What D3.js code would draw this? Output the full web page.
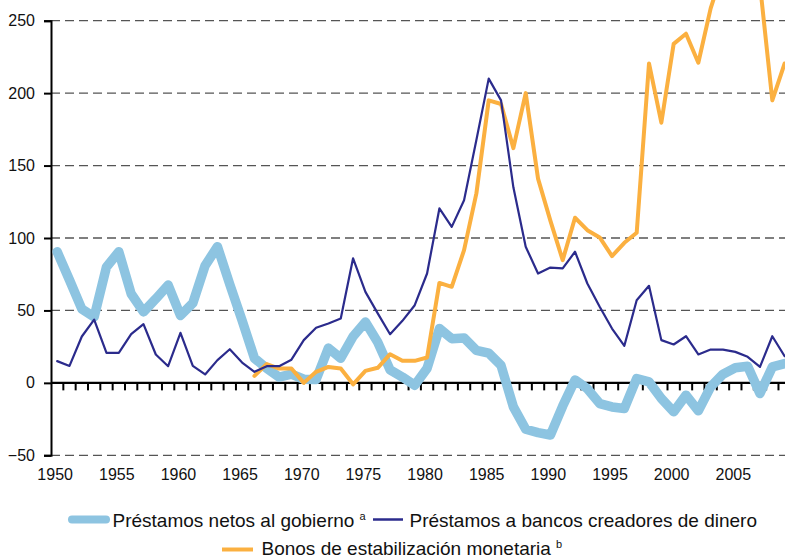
<!DOCTYPE html>
<html>
<head>
<meta charset="utf-8">
<script src="https://cdn.jsdelivr.net/npm/d3@7"></script>
<style>
  html, body { margin: 0; padding: 0; background: #fff; }
  svg { display: block; font-family: 'Liberation Sans', Arial, sans-serif; }
</style>
</head>
<body>
<div id="chart"></div>
<script>
const years = d3.range(1950, 2010);

// Préstamos netos al gobierno (a)
const netosGobierno = [
  90.5, 71, 51, 45.5, 80, 90.5, 61.5, 49, 58, 67.5,
  46.5, 55, 81, 94, 68, 43, 17, 10, 4, 6,
  2.5, 2.3, 24, 17, 32, 42, 28, 9, 4, -1.6,
  10, 37.5, 30.5, 31, 22.5, 20.5, 12, -16.6, -32, -34.3,
  -36, -16, 2, -4, -14.3, -16.6, -17.7, 3, 0.7, -10.8,
  -20, -8.5, -19.3, -2.8, 6, 10.4, 11.5, -7.4, 11, 13.3
];

// Préstamos a bancos creadores de dinero
const bancosCreadores = [
  15, 11.7, 32, 43.7, 20.7, 20.7, 33.6, 40.5, 19.6, 11.5,
  34.5, 11.7, 5.8, 15.7, 23.2, 14, 7.6, 11.5, 11.5, 16,
  29.5, 38, 41, 44.4, 86, 62.8, 48, 33.6, 42.8, 53.6,
  75.5, 120.4, 107.7, 126, 167.6, 210, 195, 135, 94, 75.5,
  79.6, 79, 90.5, 68.6, 52.5, 37.5, 25.6, 57, 67, 29.5,
  26.5, 32.2, 19.6, 23, 23, 21.4, 18, 11, 32.2, 18.4
];

// Bonos de estabilización monetaria (b), starts in 1966
const bonosYears = d3.range(1966, 2010);
const bonosEstabilizacion = [
  4.8, 13, 9.9, 9.9, 0, 7.6, 11, 9.9, -1, 8.3,
  10.4, 19.8, 15.2, 15.2, 17.5, 69, 66.3, 91.6, 130.8, 195,
  192.5, 162, 200, 141, 112, 84.7, 114, 105.4, 100.4, 87.5,
  96.7, 103.6, 220.5, 179.6, 234, 241, 221, 258.5, 285, 300,
  310, 275, 195, 220.5
];

const yTicks = [-50, 0, 50, 100, 150, 200, 250];
const xLabels = d3.range(1950, 2010, 5);

const width = 785, height = 556;

const svg = d3.select('#chart')
  .append('svg')
  .attr('width', width)
  .attr('height', height);

const x = d3.scaleBand()
  .domain(years)
  .range([51, 51 + years.length * 12.33]);

const y = d3.scaleLinear()
  .domain([-50, 250])
  .range([455.3, 20.7]);

const cx = (yr) => x(yr) + x.bandwidth() / 2;

// gridlines (dashed) except zero
svg.append('g')
  .selectAll('line')
  .data(yTicks.filter((d) => d !== 0))
  .join('line')
  .attr('x1', 51)
  .attr('x2', width)
  .attr('y1', (d) => y(d))
  .attr('y2', (d) => y(d))
  .attr('stroke', '#555')
  .attr('stroke-width', 1.3)
  .attr('stroke-dasharray', '9,5');

// y axis
const yAxis = svg.append('g')
  .attr('transform', 'translate(51,0)')
  .call(d3.axisLeft(y).tickValues(yTicks).tickSize(7).tickPadding(9));
yAxis.select('.domain').attr('stroke', '#000').attr('stroke-width', 2);
yAxis.selectAll('.tick line').attr('stroke', '#000').attr('stroke-width', 2);
yAxis.selectAll('text')
  .attr('font-size', 16)
  .attr('fill', '#111')
  .attr('font-family', "'Liberation Sans', Arial, sans-serif");

// zero line with category ticks hanging below
const zeroY = y(0);
svg.append('line')
  .attr('x1', 51)
  .attr('x2', width)
  .attr('y1', zeroY)
  .attr('y2', zeroY)
  .attr('stroke', '#000')
  .attr('stroke-width', 2.2);

svg.append('g')
  .selectAll('line')
  .data(years.slice(1))
  .join('line')
  .attr('x1', (d) => x(d))
  .attr('x2', (d) => x(d))
  .attr('y1', zeroY)
  .attr('y2', zeroY + 7.5)
  .attr('stroke', '#000')
  .attr('stroke-width', 2);

// x labels along the bottom
svg.append('g')
  .selectAll('text')
  .data(xLabels)
  .join('text')
  .attr('x', (d) => cx(d) - 2)
  .attr('y', 479.5)
  .attr('text-anchor', 'middle')
  .attr('font-size', 16)
  .attr('fill', '#111')
  .text((d) => d);

// series
const line = d3.line()
  .x((d) => cx(d[0]))
  .y((d) => y(d[1]));

const series = [
  { name: 'netos', data: d3.zip(years, netosGobierno), color: '#8dc4e1', width: 9.5 },
  { name: 'bonos', data: d3.zip(bonosYears, bonosEstabilizacion), color: '#fbb040', width: 4 },
  { name: 'bancos', data: d3.zip(years, bancosCreadores), color: '#2b2b8c', width: 2.2 },
];

svg.append('g')
  .selectAll('path')
  .data(series)
  .join('path')
  .attr('d', (d) => line(d.data))
  .attr('fill', 'none')
  .attr('stroke', (d) => d.color)
  .attr('stroke-width', (d) => d.width)
  .attr('stroke-linejoin', 'round')
  .attr('stroke-linecap', 'round');

// legend
const legend = svg.append('g').attr('font-size', 19).attr('fill', '#111');

const legendItems = [
  { color: '#8dc4e1', width: 8, x1: 72, x2: 106, y: 519.5, tx: 112.5, ty: 527,
    label: 'Préstamos netos al gobierno', sup: 'a' },
  { color: '#2b2b8c', width: 2.5, x1: 373, x2: 403, y: 519.5, tx: 409.5, ty: 527,
    label: 'Préstamos a bancos creadores de dinero', sup: null },
  { color: '#fbb040', width: 4, x1: 222, x2: 253, y: 549.5, tx: 261.5, ty: 554.5,
    label: 'Bonos de estabilización monetaria', sup: 'b' },
];

legendItems.forEach((item) => {
  legend.append('line')
    .attr('x1', item.x1)
    .attr('x2', item.x2)
    .attr('y1', item.y)
    .attr('y2', item.y)
    .attr('stroke', item.color)
    .attr('stroke-width', item.width)
    .attr('stroke-linecap', item.width > 5 ? 'round' : 'butt');

  const t = legend.append('text')
    .attr('x', item.tx)
    .attr('y', item.ty)
    .text(item.label);

  if (item.sup) {
    t.append('tspan')
      .attr('font-size', 11)
      .attr('dx', 5)
      .attr('dy', -7)
      .text(item.sup);
  }
});
</script>
</body>
</html>
